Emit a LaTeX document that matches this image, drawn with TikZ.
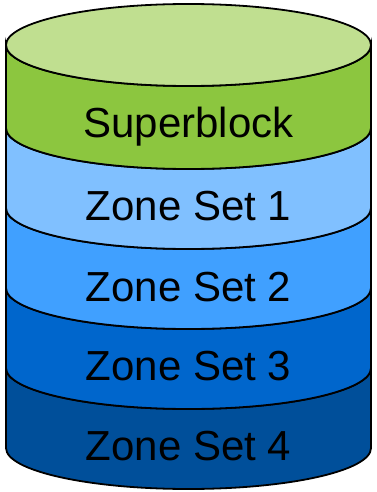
\documentclass[tikz,border=0pt]{standalone}
\usepackage{fontspec}
\setmainfont{Liberation Sans}
\definecolor{lidgreen}{HTML}{C0DF90}
\definecolor{supergreen}{HTML}{8CC63F}
\definecolor{zoneone}{HTML}{80C0FF}
\definecolor{zonetwo}{HTML}{40A0FF}
\definecolor{zonethree}{HTML}{0066CC}
\definecolor{zonefour}{HTML}{004F9A}
\begin{document}
\begin{tikzpicture}[x=1pt, y=1pt]
    \tikzset{
      pics/band/.style 2 args={
          code={
              \filldraw[line width=1.8pt, fill=#1] (-182.5,#2) -- (-182.5,0) arc (180:360:182.5 and 41) -- (182.5,#2) arc (360:180:182.5 and 41) -- cycle;
            }
        },
      label/.style={font=\fontsize{42}{50}\selectfont}
    }
    \useasboundingbox (0,0) rectangle (377,-492);

    \pic (setfour) at (188.5, -448) {band={zonefour}{80}};
    \pic (setthree) at (188.5, -368) {band={zonethree}{80}};
    \pic (settwo) at (188.5, -288) {band={zonetwo}{80}};
    \pic (setone) at (188.5, -208) {band={zoneone}{80}};
    \pic (super) at (188.5, -128) {band={supergreen}{83}};
    \filldraw[line width=1.8pt, fill=lidgreen] (188.5, -45) ellipse (182.5 and 41);

    \node[label] (superblock) at (188.5, -127) {Superblock};
    \node[label] (zoneset1) at (188.5, -206) {Zone Set 1};
    \node[label] (zoneset2) at (188.5, -287) {Zone Set 2};
    \node[label] (zoneset3) at (188.5, -366) {Zone Set 3};
    \node[label] (zoneset4) at (188.5, -446) {Zone Set 4};
  \end{tikzpicture}
\end{document}
